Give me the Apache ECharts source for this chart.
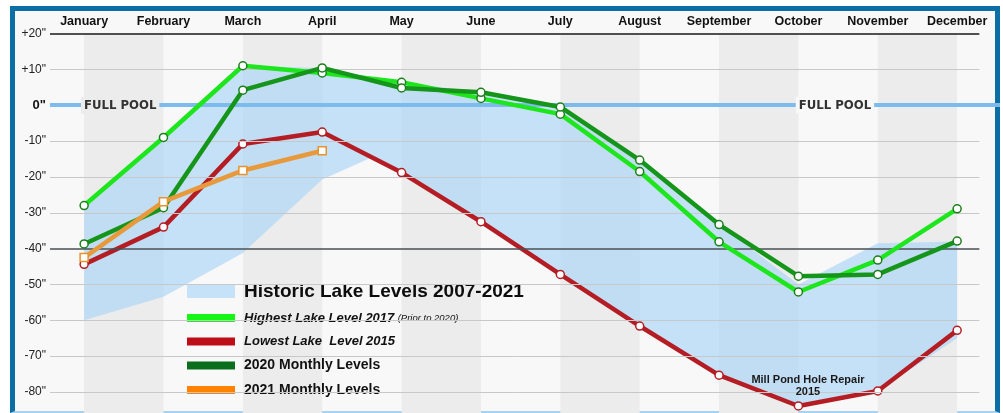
<!DOCTYPE html>
<html>
<head>
<meta charset="utf-8">
<script src="https://cdn.jsdelivr.net/npm/echarts@6/dist/echarts.min.js"></script>
<style>
  html, body { margin:0; padding:0; background:#ffffff; }
  body { width:1003px; height:413px; position:relative; overflow:hidden; }
  #frame { position:absolute; left:10px; top:6px; width:980px; height:400px;
           border-left:5px solid #0b6fa6; border-right:5px solid #0b6fa6; border-top:5px solid #0b6fa6;
           border-bottom:2px solid #a8d2ef; background:#f8f8f8; }
  #chart { position:absolute; left:0; top:0; width:1003px; height:413px; }
</style>
</head>
<body>
<div id="frame"></div>
<div id="chart"></div>
<script>
// ---------------- data ----------------
const months = ['January','February','March','April','May','June','July','August','September','October','November','December'];
const yTicks = [20, 10, 0, -10, -20, -30, -40, -50, -60, -70, -80];

const high2017 = [-28, -9, 11, 9, 6.4, 1.9, -2.5, -18.5, -38.1, -52.1, -43.2, -28.9];
const low2015  = [-44.4, -34, -10.8, -7.5, -18.8, -32.5, -47.2, -61.6, -75.3, -83.9, -79.7, -62.8];
const lvl2020  = [-38.7, -28.6, 4.2, 10.4, 4.8, 3.6, -0.5, -15.3, -33.3, -47.7, -47.2, -37.9];
const lvl2021  = [-42.5, -26.9, -18.2, -12.7];

// historic band 2007-2021 (upper and lower edges; x = month index)
const histUpperX = [0, 1, 2, 3, 4, 5, 6, 7, 8, 9, 10, 11];
const histUpper  = [-28, -9, 11, 10.4, 6.4, 3.6, -0.5, -15.3, -33.3, -50, -38.5, -38];
const histLowerX = [0, 1, 2, 3, 3.62, 4, 5, 6, 7, 8, 9, 10, 11];
const histLower  = [-60, -53.4, -41.2, -20.7, -14.6, -18.8, -32.5, -47.2, -61.6, -75.3, -83.9, -79.7, -65];

const fullPoolLabelX = [0.454, 9.46];
const millPond = { x: 9.12, y: -78.3, text: 'Mill Pond Hole Repair\n2015' };

const names = ['Historic Lake Levels 2007-2021', 'Highest Lake Level 2017', 'Lowest Lake  Level 2015', '2020 Monthly Levels', '2021 Monthly Levels'];

// ---------------- chart ----------------
const FONT = '"Liberation Sans", Arial, Helvetica, sans-serif';
const NARROW = '"Liberation Sans Narrow", "DejaVu Sans Condensed", "Liberation Sans", sans-serif';
const X_MIN = -0.43, X_MAX = 11.54, GRID_X_END = 11.28;

const chart = echarts.init(document.getElementById('chart'), null, { renderer: 'canvas', width: 1003, height: 413 });

const toXY = arr => arr.map((v, i) => [i, v]);
const bands = [];
for (let i = 0; i + 1 < months.length; i += 2) bands.push([{ xAxis: i }, { xAxis: i + 1 }]);

function gridStyle(v) {
  if (v === 20) return { color: '#1a1a1a', width: 1.5, type: 'solid' };
  if (v === -40) return { color: '#4a4f55', width: 1.5, type: 'solid' };
  return { color: '#c6c8ca', width: 1, type: 'solid' };
}
const gridLines = yTicks.filter(v => v !== 0).map(v => [
  { coord: [X_MIN, v], lineStyle: gridStyle(v) },
  { coord: [GRID_X_END, v] }
]);

const circle = (border) => ({ color: '#ffffff', borderColor: border, borderWidth: 1.5 });

const option = {
  backgroundColor: 'transparent',
  animation: false,
  grid: { left: 50, right: 3, top: 33.5, height: 110 * 3.585, containLabel: false, outerBoundsMode: 'none' },
  xAxis: {
    type: 'value', position: 'top', min: X_MIN, max: X_MAX,
    axisLine: { show: false }, axisTick: { show: false }, splitLine: { show: false },
    axisLabel: {
      customValues: months.map((m, i) => i),
      formatter: v => months[Math.round(v)] || '',
      margin: 5, color: '#111', fontFamily: FONT, fontWeight: 'bold', fontSize: 12.5
    }
  },
  yAxis: {
    type: 'value', min: -90, max: 20, interval: 10,
    axisLine: { show: false }, axisTick: { show: false }, splitLine: { show: false },
    axisLabel: {
      margin: 4, color: '#222', fontFamily: FONT, fontSize: 12,
      formatter: v => v > 0 ? '+' + v + '"' : (v === 0 ? '{b|0"}' : v + '"'),
      rich: { b: { fontWeight: 'bold', fontSize: 13, color: '#111', fontFamily: FONT } }
    }
  },
  legend: {
    left: 187, top: 282, orient: 'vertical', itemWidth: 48, itemHeight: 13, itemGap: 10.5,
    selectedMode: false, padding: 0,
    data: [
      { name: names[0], icon: 'rect', itemStyle: { color: '#c6e2f8' } },
      { name: names[1], icon: 'path://M0,0h48v8h-48z', itemStyle: { color: '#16f516', borderWidth: 0 } },
      { name: names[2], icon: 'path://M0,0h48v8h-48z', itemStyle: { color: '#bd0d18', borderWidth: 0 } },
      { name: names[3], icon: 'path://M0,0h48v8h-48z', itemStyle: { color: '#0b6e1c', borderWidth: 0 } },
      { name: names[4], icon: 'path://M0,0h48v8h-48z', itemStyle: { color: '#ff8300', borderWidth: 0 } }
    ],
    formatter: name => {
      if (name === names[0]) return '{g|}{t|' + name + '}';
      if (name === names[1]) return '{g|}{i|' + name + '} {s|(Prior to 2020)}';
      if (name === names[2]) return '{g|}{i|' + name + '}';
      return '{g|}{n|' + name + '}';
    },
    textStyle: {
      color: '#111', fontFamily: FONT,
      rich: {
        g: { width: 4 },
        t: { fontSize: 19, fontWeight: 'bold', lineHeight: 20, color: '#0d0d0d', fontFamily: FONT },
        i: { fontSize: 13, fontWeight: 'bold', fontStyle: 'italic', color: '#111', fontFamily: FONT },
        s: { fontSize: 9.5, fontStyle: 'italic', color: '#111', fontFamily: FONT },
        n: { fontSize: 14, fontWeight: 'bold', color: '#111', fontFamily: FONT }
      }
    }
  },
  series: [
    { // background bands
      type: 'line', name: '_bands', data: [], z: 1, silent: true,
      markArea: { silent: true, itemStyle: { color: '#ececec' }, data: bands }
    },
    { // historic band
      type: 'custom', name: names[0], z: 2, silent: true,
      data: [[0, 0]],
      itemStyle: { color: '#c6e2f8' },
      renderItem: (params, api) => {
        const pts = [];
        histUpper.forEach((v, i) => pts.push(api.coord([histUpperX[i], v])));
        for (let i = histLower.length - 1; i >= 0; i--) pts.push(api.coord([histLowerX[i], histLower[i]]));
        return { type: 'polygon', shape: { points: pts }, style: { fill: 'rgba(172,214,246,0.68)' } };
      }
    },
    { // grid lines + full pool
      type: 'line', name: '_grid', data: [], z: 3, silent: true,
      markLine: {
        silent: true, symbol: 'none', label: { show: false },
        data: gridLines.concat([{ yAxis: 0, lineStyle: { color: '#7cbbec', width: 4, type: 'solid' } }])
      },
      markPoint: {
        silent: true, symbol: 'rect', symbolSize: 0,
        data: fullPoolLabelX.map((x, k) => ({
          coord: [x, 0],
          label: {
            show: true, position: 'inside', formatter: 'FULL POOL',
            fontFamily: NARROW, fontWeight: 'bold', fontSize: 13, color: '#333',
            backgroundColor: k === 0 ? '#ececec' : '#f8f8f8', padding: [2, 3]
          }
        }))
      }
    },
    {
      type: 'line', name: names[2], z: 4, data: toXY(low2015),
      lineStyle: { color: '#b51d24', width: 4.5 }, itemStyle: circle('#b51d24'),
      symbol: 'circle', symbolSize: 8, showSymbol: true,
      markPoint: {
        silent: true, symbol: 'rect', symbolSize: 0,
        data: [{ coord: [millPond.x, millPond.y] }],
        label: { show: true, position: 'inside', formatter: millPond.text, fontFamily: FONT,
                 fontWeight: 'bold', fontSize: 11, lineHeight: 12, color: '#1a1a1a', align: 'center' }
      }
    },
    {
      type: 'line', name: names[1], z: 5, data: toXY(high2017),
      lineStyle: { color: '#1de61d', width: 4.5 }, itemStyle: circle('#1a7f1a'),
      symbol: 'circle', symbolSize: 8
    },
    {
      type: 'line', name: names[3], z: 6, data: toXY(lvl2020),
      lineStyle: { color: '#15961a', width: 4.5 }, itemStyle: circle('#1a7f1a'),
      symbol: 'circle', symbolSize: 8
    },
    {
      type: 'line', name: names[4], z: 7, data: toXY(lvl2021),
      lineStyle: { color: '#e8993c', width: 4.5 }, itemStyle: circle('#e8932c'),
      symbol: 'rect', symbolSize: 8
    }
  ]
};
chart.setOption(option);
</script>
</body>
</html>
